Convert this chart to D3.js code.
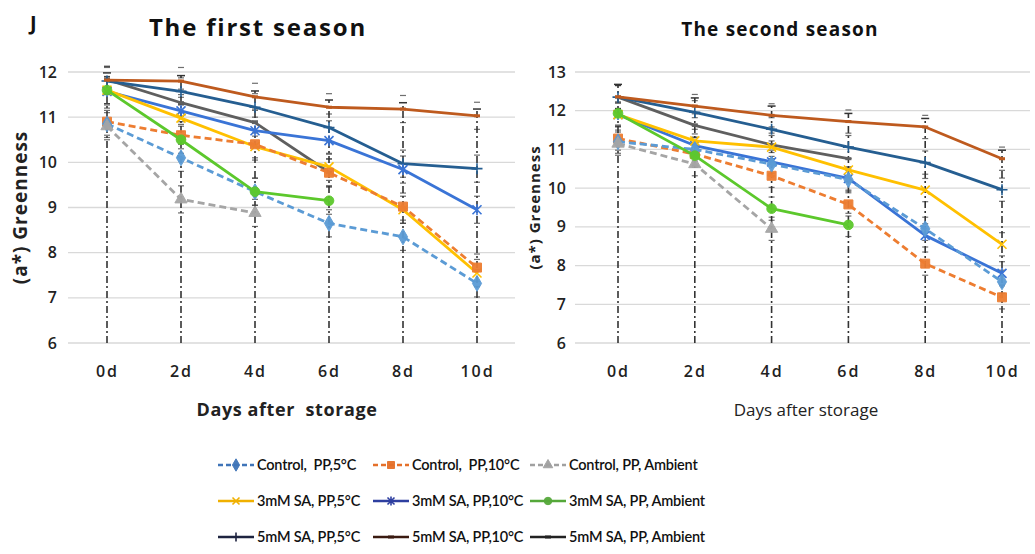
<!DOCTYPE html>
<html><head><meta charset="utf-8">
<script src="https://cdn.jsdelivr.net/npm/d3@7"></script>
<style>body{margin:0;background:#fff;} svg{display:block;}</style>
</head><body>
<svg id="c" width="1035" height="554"></svg>
<script>
// ---------- data ----------
const days = ["0d","2d","4d","6d","8d","10d"];
const seriesNames = ["Control,\u00A0 PP,5\u00B0C","Control,\u00A0 PP,10\u00B0C","Control, PP, Ambient",
  "3mM SA, PP,5\u00B0C","3mM SA, PP,10\u00B0C","3mM SA, PP, Ambient",
  "5mM SA, PP,5\u00B0C","5mM SA, PP,10\u00B0C","5mM SA, PP, Ambient"];
const seriesColors = ["#5B9BD5","#ED7D31","#A5A5A5","#FFC000","#3A74D6","#5CC82C","#255E91","#BE5A1E","#5F5F5F"];
const legendColors = ["#3F74B8","#E5702A","#A0A0A0","#F0B000","#2E3FA0","#55A83A","#1E2440","#3A1A10","#222222"];
const dashed = [true,true,true,false,false,false,false,false,false];
const markers = ["diamond","square","triangle","x","star","circle","plus","dash","dash"];

// first season
const s1_control5   = [10.85,10.10,9.35,8.65,8.35,7.32];
const s1_control10  = [10.90,10.60,10.40,9.77,9.02,7.67];
const s1_controlAmb = [10.80,9.18,8.88];
const s1_sa3_5      = [11.60,10.98,10.35,9.90,8.95,7.55];
const s1_sa3_10     = [11.57,11.14,10.70,10.48,9.84,8.95];
const s1_sa3_Amb    = [11.60,10.50,9.35,9.15];
const s1_sa5_5      = [11.80,11.57,11.22,10.77,9.97,9.86];
const s1_sa5_10     = [11.82,11.80,11.45,11.22,11.18,11.03];
const s1_sa5_Amb    = [11.83,11.32,10.88,9.78];
const s1_errTop     = [11.98,11.92,11.58,11.38,11.32,11.18];

// second season
const s2_control5   = [11.20,11.00,10.62,10.22,8.95,7.58];
const s2_control10  = [11.28,10.88,10.32,9.58,8.05,7.18];
const s2_controlAmb = [11.15,10.62,8.95];
const s2_sa3_5      = [11.90,11.22,11.06,10.47,9.95,8.55];
const s2_sa3_10     = [11.90,11.10,10.68,10.25,8.78,7.80];
const s2_sa3_Amb    = [11.93,10.84,9.47,9.05];
const s2_sa5_5      = [12.35,11.96,11.52,11.06,10.66,9.96];
const s2_sa5_10     = [12.36,12.12,11.88,11.72,11.58,10.76];
const s2_sa5_Amb    = [12.35,11.62,11.12,10.76];
const s2_errTop     = [12.68,12.33,12.12,11.93,11.80,10.98];

const yTicks1 = [6,7,8,9,10,11,12];
const yTicks2 = [6,7,8,9,10,11,12,13];

const season1 = [s1_control5,s1_control10,s1_controlAmb,s1_sa3_5,s1_sa3_10,s1_sa3_Amb,s1_sa5_5,s1_sa5_10,s1_sa5_Amb];
const season2 = [s2_control5,s2_control10,s2_controlAmb,s2_sa3_5,s2_sa3_10,s2_sa3_Amb,s2_sa5_5,s2_sa5_10,s2_sa5_Amb];
// order in which lines are painted (back to front)
const drawOrder = [8,6,7,4,3,1,0,2,5];

const svg = d3.select("#c");
const font = "'Open Sans', 'DejaVu Sans', sans-serif";

function markerPath(type, size){
  const s = size;
  switch(type){
    case "diamond": return d3.symbol(d3.symbolDiamond, s*s*0.9)();
    case "square": return d3.symbol(d3.symbolSquare, s*s)();
    case "triangle": return d3.symbol(d3.symbolTriangle, s*s*0.8)();
    case "circle": return d3.symbol(d3.symbolCircle, s*s*0.9)();
    default: return null;
  }
}

function drawMarker(g, type, x, y, color, size){
  const p = markerPath(type, size);
  if(p){
    g.append("path").attr("d", p).attr("transform", `translate(${x},${y})`)
      .attr("fill", color).attr("stroke", color).attr("stroke-width",1).attr("opacity",0.95);
  } else if(type === "x"){
    const h = size/2;
    g.append("path").attr("d",`M${x-h},${y-h}L${x+h},${y+h}M${x-h},${y+h}L${x+h},${y-h}`)
      .attr("stroke",color).attr("stroke-width",1.6);
  } else if(type === "star"){
    const h = size/2;
    g.append("path").attr("d",`M${x-h},${y-h}L${x+h},${y+h}M${x-h},${y+h}L${x+h},${y-h}M${x},${y-h-1}L${x},${y+h+1}`)
      .attr("stroke",color).attr("stroke-width",1.6);
  } else if(type === "plus"){
    const h = size/2+1;
    g.append("path").attr("d",`M${x-h},${y}L${x+h},${y}M${x},${y-h}L${x},${y+h}`)
      .attr("stroke",color).attr("stroke-width",1.6);
  } else if(type === "dash"){
    g.append("path").attr("d",`M${x-3},${y}L${x+3},${y}`).attr("stroke",color).attr("stroke-width",3);
  }
}

function drawPanel(opt){
  const {data, ticks, xRange, yRange, gridX, errTop, title, titleX, titleSize, titleSpacing, ylabX, ylabSize, tickX, xlabX, xlabWeight, xlabSize, xlabSpacing} = opt;
  const x = d3.scalePoint().domain(days).range(xRange);
  const y = d3.scaleLinear().domain([ticks[0], ticks[ticks.length-1]]).range(yRange);
  const g = svg.append("g");

  // gridlines
  g.selectAll("line.grid").data(ticks).enter().append("line")
    .attr("x1", gridX[0]).attr("x2", gridX[1])
    .attr("y1", d=>y(d)).attr("y2", d=>y(d))
    .attr("stroke","#d9d9d9").attr("stroke-width",1.3);

  // y axis tick labels
  const ya = d3.axisLeft(y).tickValues(ticks).tickSize(0).tickPadding(0).tickFormat(d3.format("d"));
  const yg = g.append("g").attr("transform",`translate(${tickX},0)`).call(ya);
  yg.select(".domain").remove();
  yg.selectAll("text").attr("font-family",font).attr("font-size",16).attr("font-weight",600).attr("fill","#222");

  // x axis tick labels
  const xa = d3.axisBottom(x).tickSize(0).tickPadding(0);
  const xg = g.append("g").attr("transform",`translate(0,${y(ticks[0])+23})`).call(xa);
  xg.select(".domain").remove();
  xg.selectAll("text").attr("font-family",font).attr("font-size",16).attr("font-weight",600)
    .attr("fill","#222").attr("letter-spacing","2px");

  // vertical dash-dot error lines
  g.selectAll("line.err").data(days).enter().append("line")
    .attr("x1", d=>x(d)).attr("x2", d=>x(d))
    .attr("y1", y(ticks[0])).attr("y2", (d,i)=>y(errTop[i]))
    .attr("stroke","#333").attr("stroke-width",1.6).attr("stroke-dasharray","7,3,2,3");

  // error caps
  data.forEach((vals, si)=>{
    vals.forEach((v,i)=>{
      [0.3,-0.3].forEach(o=>{
        g.append("line").attr("x1",x(days[i])-3).attr("x2",x(days[i])+3)
          .attr("y1",y(v+o)).attr("y2",y(v+o)).attr("stroke","#333").attr("stroke-width",1.2).attr("opacity",0.7);
      });
    });
  });
  g.selectAll("line.cap").data(days).enter().append("line")
    .attr("x1", d=>x(d)-4).attr("x2", d=>x(d)+4)
    .attr("y1", (d,i)=>y(errTop[i])).attr("y2", (d,i)=>y(errTop[i]))
    .attr("stroke","#333").attr("stroke-width",1.5);

  // lines
  const line = d3.line().x((d,i)=>x(days[i])).y(d=>y(d));
  drawOrder.forEach(si=>{
    const vals = data[si];
    g.append("path").attr("d", line(vals)).attr("fill","none")
      .attr("stroke", seriesColors[si]).attr("stroke-width",2.8)
      .attr("stroke-dasharray", dashed[si] ? "7,4" : null)
      .attr("stroke-linejoin","round");
    vals.forEach((v,i)=> drawMarker(g, markers[si], x(days[i]), y(v), seriesColors[si], 9));
  });

  // title
  svg.append("text").attr("x",titleX).attr("y",36).attr("text-anchor","middle")
    .attr("font-family",font).attr("font-weight",700).attr("font-size",titleSize)
    .attr("letter-spacing",titleSpacing).attr("fill","#111").text(title);
  // y label
  svg.append("text").attr("transform",`translate(${ylabX},${(yRange[0]+yRange[1])/2}) rotate(-90)`)
    .attr("text-anchor","middle").attr("font-family",font).attr("font-weight",700).attr("font-size",ylabSize)
    .attr("letter-spacing","1px").attr("fill","#222").text("(a*) Greenness");
  // x label
  svg.append("text").attr("x",xlabX).attr("y",416).attr("text-anchor","middle")
    .attr("font-family",font).attr("font-weight",xlabWeight).attr("font-size",xlabSize)
    .attr("letter-spacing",xlabSpacing).attr("fill","#222")
    .text(opt.xlabText);
}

drawPanel({data:season1, ticks:yTicks1, xRange:[107,477], yRange:[343,72], gridX:[68,515], errTop:s1_errTop,
  title:"The first season", titleX:258, titleSize:24, titleSpacing:"1.8px", ylabX:27, ylabSize:19, tickX:57,
  xlabX:287, xlabWeight:700, xlabSize:18, xlabSpacing:"0.6px",
  xlabText:"Days after\u00A0 storage"});
drawPanel({data:season2, ticks:yTicks2, xRange:[618,1002], yRange:[343,72], gridX:[575,1030], errTop:s2_errTop,
  title:"The second season", titleX:780, titleSize:19, titleSpacing:"1.2px", ylabX:540, ylabSize:15, tickX:566,
  xlabX:806, xlabWeight:400, xlabSize:17, xlabSpacing:"0px",
  xlabText:"Days after storage"});

svg.append("text").attr("x",30).attr("y",30).attr("font-family",font).attr("font-weight",700)
  .attr("font-size",20).attr("fill","#111").text("J");

// legend
const legCols = [218,373,530];
const legRows = [465,501,537];
seriesNames.forEach((name,i)=>{
  const cx = legCols[i%3], cy = legRows[Math.floor(i/3)];
  const g = svg.append("g");
  g.append("line").attr("x1",cx).attr("x2",cx+36).attr("y1",cy).attr("y2",cy)
    .attr("stroke",legendColors[i]).attr("stroke-width",2.6)
    .attr("stroke-dasharray", dashed[i] ? "5,3" : null);
  drawMarker(g, markers[i], cx+18, cy, legendColors[i], 7);
  g.append("text").attr("x",cx+39).attr("y",cy+5).attr("font-family","Lato, 'Open Sans', sans-serif")
    .attr("font-size",14.5).attr("font-weight",600).attr("fill","#111").attr("letter-spacing","-0.2px").text(name);
});
</script>
</body></html>
